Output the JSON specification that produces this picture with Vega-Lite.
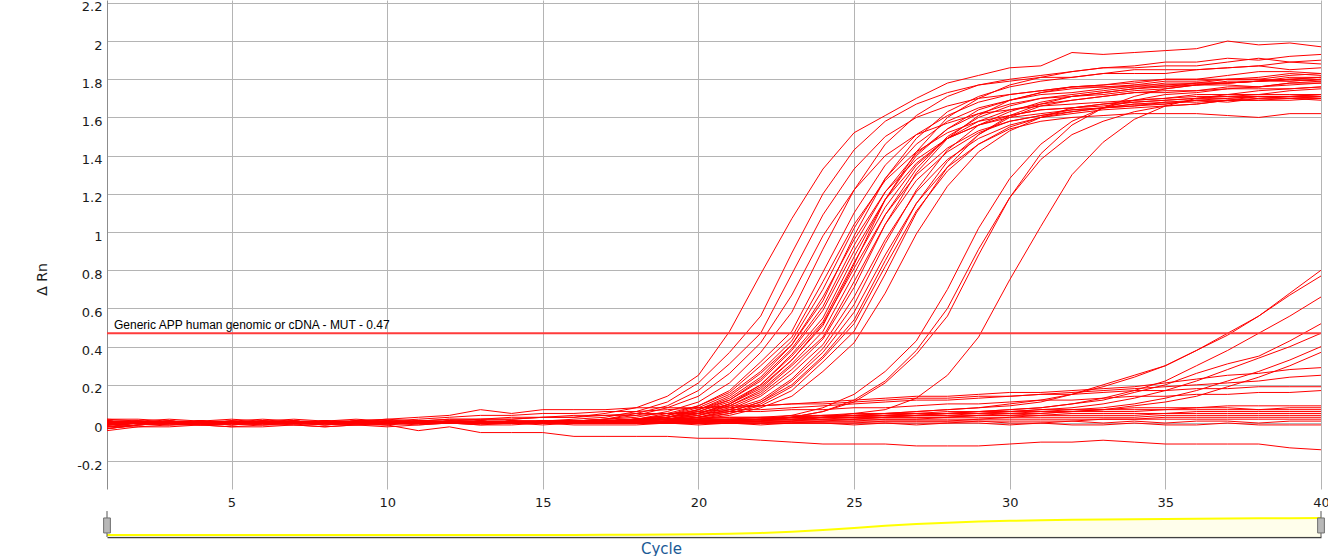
{
"$schema":"https://vega.github.io/schema/vega-lite/v6.json",
"background":"white",
"padding":{"left":35,"top":0,"right":0,"bottom":0},
"config":{"view":{"stroke":null},"axis":{"labelFont":"DejaVu Sans","titleFont":"DejaVu Sans"}},
"datasets":{
"thr":[{"label":"Generic APP human genomic or cDNA - MUT - 0.47","t":0.47}],
"handles":[{"c":1},{"c":40}],
"cyc":[{"k":"c1","c":1},{"k":"c2","c":2},{"k":"c3","c":3},{"k":"c4","c":4},{"k":"c5","c":5},{"k":"c6","c":6},{"k":"c7","c":7},{"k":"c8","c":8},{"k":"c9","c":9},{"k":"c10","c":10},{"k":"c11","c":11},{"k":"c12","c":12},{"k":"c13","c":13},{"k":"c14","c":14},{"k":"c15","c":15},{"k":"c16","c":16},{"k":"c17","c":17},{"k":"c18","c":18},{"k":"c19","c":19},{"k":"c20","c":20},{"k":"c21","c":21},{"k":"c22","c":22},{"k":"c23","c":23},{"k":"c24","c":24},{"k":"c25","c":25},{"k":"c26","c":26},{"k":"c27","c":27},{"k":"c28","c":28},{"k":"c29","c":29},{"k":"c30","c":30},{"k":"c31","c":31},{"k":"c32","c":32},{"k":"c33","c":33},{"k":"c34","c":34},{"k":"c35","c":35},{"k":"c36","c":36},{"k":"c37","c":37},{"k":"c38","c":38},{"k":"c39","c":39},{"k":"c40","c":40}],
"wells":[
{"w":"a","c1":-0.03,"c2":-0.01,"c3":0,"c4":0.01,"c5":0,"c6":0.01,"c7":0,"c8":0.01,"c9":0,"c10":0.01,"c11":0.01,"c12":0.02,"c13":0.02,"c14":0.02,"c15":0.03,"c16":0.03,"c17":0.05,"c18":0.08,"c19":0.14,"c20":0.25,"c21":0.48,"c22":0.78,"c23":1.07,"c24":1.33,"c25":1.52,"c26":1.61,"c27":1.7,"c28":1.78,"c29":1.82,"c30":1.86,"c31":1.87,"c32":1.94,"c33":1.93,"c34":1.94,"c35":1.95,"c36":1.96,"c37":2,"c38":1.98,"c39":1.99,"c40":1.97},
{"w":"b","c1":0.01,"c2":0,"c3":-0.01,"c4":0,"c5":0.01,"c6":0,"c7":0.01,"c8":0,"c9":0.01,"c10":0,"c11":0.01,"c12":0.01,"c13":0,"c14":0.01,"c15":0.01,"c16":0.02,"c17":0.03,"c18":0.06,"c19":0.11,"c20":0.21,"c21":0.37,"c22":0.56,"c23":0.89,"c24":1.2,"c25":1.43,"c26":1.58,"c27":1.67,"c28":1.73,"c29":1.77,"c30":1.79,"c31":1.81,"c32":1.81,"c33":1.83,"c34":1.83,"c35":1.83,"c36":1.85,"c37":1.86,"c38":1.87,"c39":1.85,"c40":1.86},
{"w":"c","c1":-0.02,"c2":0,"c3":0.01,"c4":0,"c5":-0.01,"c6":0,"c7":0,"c8":0.01,"c9":0,"c10":0,"c11":0.01,"c12":0,"c13":0.01,"c14":0,"c15":0.01,"c16":0.01,"c17":0.02,"c18":0.05,"c19":0.09,"c20":0.17,"c21":0.31,"c22":0.47,"c23":0.78,"c24":1.09,"c25":1.33,"c26":1.5,"c27":1.6,"c28":1.66,"c29":1.7,"c30":1.72,"c31":1.74,"c32":1.76,"c33":1.76,"c34":1.76,"c35":1.78,"c36":1.78,"c37":1.8,"c38":1.8,"c39":1.79,"c40":1.8},
{"w":"d","c1":0,"c2":0.01,"c3":0,"c4":-0.01,"c5":0,"c6":0.01,"c7":0,"c8":-0.01,"c9":0,"c10":0.01,"c11":0,"c12":0,"c13":0.01,"c14":0,"c15":0.01,"c16":0.01,"c17":0.02,"c18":0.04,"c19":0.08,"c20":0.14,"c21":0.26,"c22":0.42,"c23":0.67,"c24":0.98,"c25":1.22,"c26":1.4,"c27":1.51,"c28":1.57,"c29":1.62,"c30":1.64,"c31":1.66,"c32":1.67,"c33":1.68,"c34":1.69,"c35":1.7,"c36":1.71,"c37":1.71,"c38":1.72,"c39":1.72,"c40":1.72},
{"w":"e","c1":0.01,"c2":0,"c3":0,"c4":0.01,"c5":0,"c6":-0.01,"c7":0,"c8":0.01,"c9":0,"c10":0,"c11":0.01,"c12":0,"c13":0,"c14":0.01,"c15":0.01,"c16":0.01,"c17":0.02,"c18":0.03,"c19":0.06,"c20":0.11,"c21":0.21,"c22":0.37,"c23":0.58,"c24":0.91,"c25":1.22,"c26":1.46,"c27":1.61,"c28":1.71,"c29":1.77,"c30":1.8,"c31":1.82,"c32":1.84,"c33":1.86,"c34":1.86,"c35":1.87,"c36":1.87,"c37":1.89,"c38":1.91,"c39":1.89,"c40":1.9},
{"w":"f","c1":-0.01,"c2":0,"c3":0.01,"c4":0,"c5":0,"c6":0.01,"c7":0,"c8":0,"c9":-0.01,"c10":0,"c11":0,"c12":0.01,"c13":0,"c14":0.01,"c15":0,"c16":0.01,"c17":0.01,"c18":0.02,"c19":0.05,"c20":0.09,"c21":0.17,"c22":0.32,"c23":0.48,"c24":0.79,"c25":1.1,"c26":1.35,"c27":1.51,"c28":1.61,"c29":1.68,"c30":1.72,"c31":1.74,"c32":1.76,"c33":1.77,"c34":1.78,"c35":1.8,"c36":1.8,"c37":1.8,"c38":1.81,"c39":1.83,"c40":1.82},
{"w":"g","c1":0.02,"c2":0.01,"c3":0,"c4":0,"c5":0.01,"c6":0,"c7":0,"c8":0,"c9":0.01,"c10":0.01,"c11":0,"c12":0,"c13":0,"c14":0.01,"c15":0,"c16":0,"c17":0.01,"c18":0.02,"c19":0.04,"c20":0.09,"c21":0.16,"c22":0.3,"c23":0.45,"c24":0.74,"c25":1.04,"c26":1.27,"c27":1.42,"c28":1.52,"c29":1.58,"c30":1.61,"c31":1.64,"c32":1.65,"c33":1.66,"c34":1.68,"c35":1.69,"c36":1.7,"c37":1.7,"c38":1.71,"c39":1.7,"c40":1.71},
{"w":"h","c1":0,"c2":0.01,"c3":0,"c4":0,"c5":0,"c6":0.01,"c7":0.01,"c8":0,"c9":0,"c10":0.01,"c11":0,"c12":0,"c13":0.01,"c14":0,"c15":0,"c16":0.01,"c17":0.01,"c18":0.02,"c19":0.04,"c20":0.08,"c21":0.15,"c22":0.27,"c23":0.43,"c24":0.7,"c25":1.02,"c26":1.28,"c27":1.46,"c28":1.58,"c29":1.65,"c30":1.69,"c31":1.72,"c32":1.73,"c33":1.75,"c34":1.77,"c35":1.77,"c36":1.78,"c37":1.78,"c38":1.79,"c39":1.8,"c40":1.81},
{"w":"i","c1":-0.02,"c2":-0.01,"c3":0,"c4":0,"c5":0,"c6":0,"c7":0.01,"c8":0,"c9":0,"c10":0,"c11":0.01,"c12":0,"c13":0,"c14":0,"c15":0.01,"c16":0,"c17":0.01,"c18":0.02,"c19":0.04,"c20":0.07,"c21":0.14,"c22":0.26,"c23":0.41,"c24":0.66,"c25":0.96,"c26":1.21,"c27":1.38,"c28":1.49,"c29":1.56,"c30":1.6,"c31":1.62,"c32":1.64,"c33":1.65,"c34":1.66,"c35":1.68,"c36":1.68,"c37":1.69,"c38":1.69,"c39":1.7,"c40":1.7},
{"w":"j","c1":0.01,"c2":0,"c3":0,"c4":-0.01,"c5":0,"c6":0,"c7":0.01,"c8":0,"c9":0.01,"c10":0,"c11":0,"c12":0,"c13":0.01,"c14":0,"c15":0,"c16":0.01,"c17":0.01,"c18":0.02,"c19":0.03,"c20":0.07,"c21":0.13,"c22":0.24,"c23":0.41,"c24":0.64,"c25":0.98,"c26":1.28,"c27":1.49,"c28":1.63,"c29":1.71,"c30":1.76,"c31":1.79,"c32":1.81,"c33":1.83,"c34":1.85,"c35":1.85,"c36":1.85,"c37":1.86,"c38":1.87,"c39":1.89,"c40":1.88},
{"w":"k","c1":0,"c2":0,"c3":0.01,"c4":0,"c5":0.01,"c6":0,"c7":0,"c8":0,"c9":0,"c10":0.01,"c11":0,"c12":0.01,"c13":0,"c14":0,"c15":0.01,"c16":0,"c17":0.01,"c18":0.02,"c19":0.03,"c20":0.07,"c21":0.12,"c22":0.23,"c23":0.39,"c24":0.61,"c25":0.93,"c26":1.21,"c27":1.41,"c28":1.54,"c29":1.62,"c30":1.67,"c31":1.7,"c32":1.71,"c33":1.72,"c34":1.74,"c35":1.75,"c36":1.77,"c37":1.77,"c38":1.76,"c39":1.78,"c40":1.79},
{"w":"l","c1":-0.01,"c2":0,"c3":0,"c4":0.01,"c5":0,"c6":0,"c7":0,"c8":0.01,"c9":0,"c10":0,"c11":0,"c12":0.01,"c13":0,"c14":0,"c15":0,"c16":0.01,"c17":0,"c18":0.02,"c19":0.03,"c20":0.06,"c21":0.12,"c22":0.22,"c23":0.38,"c24":0.59,"c25":0.9,"c26":1.17,"c27":1.36,"c28":1.49,"c29":1.56,"c30":1.61,"c31":1.64,"c32":1.65,"c33":1.67,"c34":1.68,"c35":1.69,"c36":1.7,"c37":1.71,"c38":1.71,"c39":1.71,"c40":1.72},
{"w":"m","c1":0,"c2":0.01,"c3":0,"c4":0,"c5":-0.01,"c6":0,"c7":0,"c8":0,"c9":0.01,"c10":0,"c11":0,"c12":0.01,"c13":0.01,"c14":0,"c15":0,"c16":0,"c17":0.01,"c18":0.01,"c19":0.03,"c20":0.06,"c21":0.11,"c22":0.2,"c23":0.36,"c24":0.55,"c25":0.87,"c26":1.17,"c27":1.4,"c28":1.54,"c29":1.64,"c30":1.69,"c31":1.73,"c32":1.75,"c33":1.76,"c34":1.77,"c35":1.79,"c36":1.79,"c37":1.8,"c38":1.8,"c39":1.82,"c40":1.83},
{"w":"n","c1":0.01,"c2":0,"c3":0,"c4":0,"c5":0,"c6":0.01,"c7":0,"c8":-0.01,"c9":0,"c10":0,"c11":0.01,"c12":0,"c13":0,"c14":0,"c15":0.01,"c16":0,"c17":0,"c18":0.01,"c19":0.03,"c20":0.05,"c21":0.1,"c22":0.2,"c23":0.35,"c24":0.53,"c25":0.84,"c26":1.13,"c27":1.35,"c28":1.49,"c29":1.58,"c30":1.64,"c31":1.67,"c32":1.69,"c33":1.71,"c34":1.73,"c35":1.73,"c36":1.74,"c37":1.75,"c38":1.75,"c39":1.75,"c40":1.76},
{"w":"o","c1":-0.03,"c2":-0.01,"c3":0,"c4":0,"c5":0.01,"c6":0,"c7":0,"c8":0,"c9":0,"c10":0.01,"c11":0,"c12":0,"c13":0,"c14":0.01,"c15":0,"c16":0,"c17":0,"c18":0.01,"c19":0.03,"c20":0.05,"c21":0.1,"c22":0.19,"c23":0.33,"c24":0.52,"c25":0.81,"c26":1.09,"c27":1.3,"c28":1.44,"c29":1.53,"c30":1.58,"c31":1.61,"c32":1.63,"c33":1.65,"c34":1.66,"c35":1.67,"c36":1.69,"c37":1.68,"c38":1.7,"c39":1.7,"c40":1.69},
{"w":"p","c1":0,"c2":0,"c3":0.01,"c4":0,"c5":0,"c6":0,"c7":0,"c8":0.01,"c9":0,"c10":0,"c11":0,"c12":0,"c13":0.01,"c14":0,"c15":0,"c16":0,"c17":0,"c18":0.01,"c19":0.02,"c20":0.05,"c21":0.1,"c22":0.18,"c23":0.33,"c24":0.51,"c25":0.83,"c26":1.17,"c27":1.42,"c28":1.6,"c29":1.7,"c30":1.77,"c31":1.81,"c32":1.84,"c33":1.86,"c34":1.87,"c35":1.89,"c36":1.89,"c37":1.91,"c38":1.9,"c39":1.92,"c40":1.93},
{"w":"q","c1":0.01,"c2":0.01,"c3":0,"c4":0,"c5":0,"c6":0,"c7":0.01,"c8":0,"c9":0,"c10":0,"c11":0,"c12":0.01,"c13":0,"c14":0,"c15":0.01,"c16":0,"c17":0,"c18":0.01,"c19":0.02,"c20":0.05,"c21":0.09,"c22":0.17,"c23":0.31,"c24":0.48,"c25":0.78,"c26":1.09,"c27":1.33,"c28":1.5,"c29":1.6,"c30":1.66,"c31":1.7,"c32":1.72,"c33":1.74,"c34":1.76,"c35":1.76,"c36":1.78,"c37":1.78,"c38":1.79,"c39":1.8,"c40":1.79},
{"w":"r","c1":-0.02,"c2":0,"c3":0,"c4":0.01,"c5":0,"c6":0,"c7":0,"c8":0,"c9":0.01,"c10":0,"c11":0,"c12":0,"c13":0,"c14":0,"c15":0.01,"c16":0,"c17":0.01,"c18":0.01,"c19":0.02,"c20":0.04,"c21":0.09,"c22":0.16,"c23":0.3,"c24":0.45,"c25":0.74,"c26":1.04,"c27":1.27,"c28":1.42,"c29":1.52,"c30":1.58,"c31":1.61,"c32":1.64,"c33":1.65,"c34":1.67,"c35":1.67,"c36":1.69,"c37":1.69,"c38":1.71,"c39":1.71,"c40":1.7},
{"w":"s","c1":0.01,"c2":0,"c3":0,"c4":0,"c5":0.01,"c6":0,"c7":0,"c8":0,"c9":0,"c10":0,"c11":0.01,"c12":0,"c13":0,"c14":0,"c15":0,"c16":0.01,"c17":0,"c18":0.01,"c19":0.02,"c20":0.04,"c21":0.08,"c22":0.15,"c23":0.28,"c24":0.44,"c25":0.71,"c26":1.04,"c27":1.31,"c28":1.49,"c29":1.61,"c30":1.69,"c31":1.73,"c32":1.76,"c33":1.77,"c34":1.79,"c35":1.8,"c36":1.8,"c37":1.82,"c38":1.84,"c39":1.84,"c40":1.83},
{"w":"t","c1":0,"c2":0,"c3":-0.01,"c4":0,"c5":0,"c6":0,"c7":0.01,"c8":0,"c9":0,"c10":0,"c11":0,"c12":0,"c13":0.01,"c14":0,"c15":0,"c16":0,"c17":0.01,"c18":0.01,"c19":0.02,"c20":0.04,"c21":0.07,"c22":0.14,"c23":0.26,"c24":0.41,"c25":0.66,"c26":0.96,"c27":1.21,"c28":1.38,"c29":1.49,"c30":1.56,"c31":1.6,"c32":1.62,"c33":1.64,"c34":1.65,"c35":1.66,"c36":1.67,"c37":1.69,"c38":1.69,"c39":1.69,"c40":1.7},
{"w":"u","c1":0,"c2":0.01,"c3":0,"c4":0,"c5":0,"c6":0,"c7":0,"c8":0,"c9":0.01,"c10":0,"c11":0,"c12":0,"c13":0,"c14":0.01,"c15":0,"c16":0,"c17":0,"c18":0.01,"c19":0.02,"c20":0.03,"c21":0.07,"c22":0.12,"c23":0.23,"c24":0.39,"c25":0.62,"c26":0.94,"c27":1.22,"c28":1.43,"c29":1.56,"c30":1.63,"c31":1.68,"c32":1.71,"c33":1.73,"c34":1.75,"c35":1.77,"c36":1.77,"c37":1.78,"c38":1.79,"c39":1.79,"c40":1.8},
{"w":"v","c1":0.01,"c2":0,"c3":0,"c4":0,"c5":0,"c6":0.01,"c7":0,"c8":0,"c9":0,"c10":0,"c11":0,"c12":0.01,"c13":0,"c14":0,"c15":0,"c16":0,"c17":0,"c18":0.01,"c19":0.01,"c20":0.03,"c21":0.06,"c22":0.11,"c23":0.22,"c24":0.37,"c25":0.58,"c26":0.88,"c27":1.15,"c28":1.34,"c29":1.46,"c30":1.54,"c31":1.58,"c32":1.6,"c33":1.61,"c34":1.62,"c35":1.62,"c36":1.62,"c37":1.61,"c38":1.6,"c39":1.62,"c40":1.62},
{"w":"w","c1":0,"c2":0,"c3":0,"c4":0.01,"c5":0,"c6":0,"c7":0,"c8":0,"c9":0,"c10":0.01,"c11":0,"c12":0,"c13":0,"c14":0,"c15":0,"c16":0.01,"c17":0,"c18":0,"c19":0.01,"c20":0.03,"c21":0.06,"c22":0.11,"c23":0.2,"c24":0.35,"c25":0.54,"c26":0.85,"c27":1.15,"c28":1.37,"c29":1.51,"c30":1.6,"c31":1.66,"c32":1.69,"c33":1.71,"c34":1.73,"c35":1.74,"c36":1.74,"c37":1.76,"c38":1.76,"c39":1.78,"c40":1.78},
{"w":"x","c1":-0.01,"c2":0,"c3":0,"c4":0,"c5":0,"c6":0,"c7":0.01,"c8":0,"c9":0,"c10":0,"c11":0,"c12":0,"c13":0,"c14":0.01,"c15":0,"c16":0,"c17":0,"c18":0,"c19":0.01,"c20":0.03,"c21":0.05,"c22":0.1,"c23":0.19,"c24":0.34,"c25":0.52,"c26":0.82,"c27":1.11,"c28":1.32,"c29":1.46,"c30":1.55,"c31":1.6,"c32":1.63,"c33":1.65,"c34":1.67,"c35":1.68,"c36":1.69,"c37":1.7,"c38":1.71,"c39":1.71,"c40":1.71},
{"w":"y","c1":0.01,"c2":0,"c3":0,"c4":0,"c5":0,"c6":0,"c7":0,"c8":0.01,"c9":0,"c10":0,"c11":0,"c12":0,"c13":0,"c14":0,"c15":0.01,"c16":0,"c17":0,"c18":0,"c19":0.01,"c20":0.02,"c21":0.05,"c22":0.09,"c23":0.17,"c24":0.32,"c25":0.48,"c26":0.78,"c27":1.1,"c28":1.34,"c29":1.51,"c30":1.61,"c31":1.67,"c32":1.71,"c33":1.73,"c34":1.75,"c35":1.76,"c36":1.77,"c37":1.79,"c38":1.79,"c39":1.81,"c40":1.81},
{"w":"z","c1":0,"c2":0,"c3":0.01,"c4":0,"c5":0,"c6":0,"c7":0,"c8":0,"c9":0,"c10":0,"c11":0.01,"c12":0,"c13":0,"c14":0,"c15":0,"c16":0,"c17":0,"c18":0,"c19":0.01,"c20":0.02,"c21":0.04,"c22":0.08,"c23":0.14,"c24":0.27,"c25":0.42,"c26":0.68,"c27":0.99,"c28":1.24,"c29":1.42,"c30":1.53,"c31":1.6,"c32":1.65,"c33":1.67,"c34":1.69,"c35":1.7,"c36":1.72,"c37":1.72,"c38":1.72,"c39":1.74,"c40":1.75},
{"w":"A","c1":0,"c2":0.01,"c3":0,"c4":0,"c5":0,"c6":0,"c7":0.01,"c8":0,"c9":0,"c10":0,"c11":0,"c12":0,"c13":0,"c14":0.01,"c15":0,"c16":0,"c17":0,"c18":0,"c19":0.01,"c20":0.01,"c21":0.01,"c22":0.02,"c23":0.04,"c24":0.08,"c25":0.15,"c26":0.27,"c27":0.43,"c28":0.7,"c29":1.02,"c30":1.28,"c31":1.46,"c32":1.58,"c33":1.65,"c34":1.69,"c35":1.72,"c36":1.73,"c37":1.75,"c38":1.76,"c39":1.77,"c40":1.78},
{"w":"B","c1":-0.01,"c2":0,"c3":0,"c4":0.01,"c5":0,"c6":0,"c7":0,"c8":0,"c9":0.01,"c10":0,"c11":0,"c12":0,"c13":0,"c14":0,"c15":0,"c16":0.01,"c17":0,"c18":0,"c19":0,"c20":0.01,"c21":0.01,"c22":0.01,"c23":0.03,"c24":0.06,"c25":0.12,"c26":0.22,"c27":0.38,"c28":0.6,"c29":0.91,"c30":1.18,"c31":1.38,"c32":1.51,"c33":1.58,"c34":1.63,"c35":1.66,"c36":1.67,"c37":1.69,"c38":1.7,"c39":1.71,"c40":1.72},
{"w":"C","c1":0.01,"c2":0,"c3":0,"c4":0,"c5":0,"c6":0.01,"c7":0,"c8":0,"c9":0,"c10":0,"c11":0.01,"c12":0,"c13":0,"c14":0,"c15":0,"c16":0,"c17":0.01,"c18":0,"c19":0,"c20":0.01,"c21":0.01,"c22":0.01,"c23":0.03,"c24":0.06,"c25":0.11,"c26":0.21,"c27":0.36,"c28":0.56,"c29":0.88,"c30":1.18,"c31":1.41,"c32":1.56,"c33":1.65,"c34":1.71,"c35":1.75,"c36":1.77,"c37":1.78,"c38":1.79,"c39":1.8,"c40":1.81},
{"w":"D","c1":0,"c2":0,"c3":0.01,"c4":0,"c5":0,"c6":0,"c7":0,"c8":0,"c9":0.01,"c10":0,"c11":0,"c12":0,"c13":0,"c14":0.01,"c15":0,"c16":0,"c17":0,"c18":0,"c19":0,"c20":0.01,"c21":0.01,"c22":0.01,"c23":0.01,"c24":0.03,"c25":0.05,"c26":0.07,"c27":0.13,"c28":0.25,"c29":0.45,"c30":0.75,"c31":1.03,"c32":1.3,"c33":1.47,"c34":1.59,"c35":1.66,"c36":1.7,"c37":1.72,"c38":1.74,"c39":1.75,"c40":1.76},
{"w":"E","c1":0,"c2":0,"c3":0,"c4":0.01,"c5":0,"c6":0,"c7":0,"c8":0.01,"c9":0,"c10":0,"c11":0,"c12":0.01,"c13":0.01,"c14":0.01,"c15":0.01,"c16":0.01,"c17":0.02,"c18":0.02,"c19":0.02,"c20":0.03,"c21":0.03,"c22":0.03,"c23":0.04,"c24":0.04,"c25":0.05,"c26":0.05,"c27":0.06,"c28":0.07,"c29":0.08,"c30":0.09,"c31":0.11,"c32":0.15,"c33":0.2,"c34":0.25,"c35":0.3,"c36":0.38,"c37":0.47,"c38":0.56,"c39":0.68,"c40":0.8},
{"w":"F","c1":0.01,"c2":0,"c3":0,"c4":0,"c5":0,"c6":0.01,"c7":0,"c8":0,"c9":0,"c10":0.01,"c11":0,"c12":0,"c13":0.01,"c14":0,"c15":0.01,"c16":0.01,"c17":0.01,"c18":0.02,"c19":0.02,"c20":0.02,"c21":0.02,"c22":0.03,"c23":0.03,"c24":0.04,"c25":0.04,"c26":0.05,"c27":0.06,"c28":0.07,"c29":0.08,"c30":0.1,"c31":0.12,"c32":0.15,"c33":0.19,"c34":0.24,"c35":0.3,"c36":0.38,"c37":0.46,"c38":0.56,"c39":0.67,"c40":0.77},
{"w":"G","c1":0,"c2":0,"c3":0.01,"c4":0,"c5":0,"c6":0,"c7":0.01,"c8":0,"c9":0,"c10":0,"c11":0.01,"c12":0,"c13":0.01,"c14":0.01,"c15":0.01,"c16":0.01,"c17":0.01,"c18":0.02,"c19":0.02,"c20":0.02,"c21":0.02,"c22":0.02,"c23":0.03,"c24":0.03,"c25":0.03,"c26":0.04,"c27":0.05,"c28":0.05,"c29":0.06,"c30":0.07,"c31":0.08,"c32":0.1,"c33":0.13,"c34":0.17,"c35":0.22,"c36":0.3,"c37":0.38,"c38":0.47,"c39":0.56,"c40":0.66},
{"w":"H","c1":-0.01,"c2":0,"c3":0,"c4":0,"c5":0,"c6":0.01,"c7":0,"c8":0,"c9":0,"c10":0,"c11":0,"c12":0.01,"c13":0,"c14":0.01,"c15":0.01,"c16":0.01,"c17":0.01,"c18":0.02,"c19":0.02,"c20":0.02,"c21":0.03,"c22":0.03,"c23":0.03,"c24":0.04,"c25":0.04,"c26":0.05,"c27":0.05,"c28":0.06,"c29":0.06,"c30":0.07,"c31":0.08,"c32":0.1,"c33":0.12,"c34":0.16,"c35":0.2,"c36":0.26,"c37":0.31,"c38":0.35,"c39":0.43,"c40":0.52},
{"w":"I","c1":0,"c2":0,"c3":0,"c4":0,"c5":0.01,"c6":0,"c7":0,"c8":0,"c9":0,"c10":0.01,"c11":0,"c12":0,"c13":0,"c14":0,"c15":0.01,"c16":0.01,"c17":0.01,"c18":0.01,"c19":0.02,"c20":0.02,"c21":0.02,"c22":0.02,"c23":0.03,"c24":0.03,"c25":0.04,"c26":0.04,"c27":0.04,"c28":0.05,"c29":0.05,"c30":0.06,"c31":0.07,"c32":0.08,"c33":0.1,"c34":0.13,"c35":0.17,"c36":0.22,"c37":0.28,"c38":0.34,"c39":0.4,"c40":0.47},
{"w":"J","c1":0.01,"c2":0,"c3":0,"c4":0,"c5":0,"c6":0,"c7":0,"c8":0.01,"c9":0,"c10":0,"c11":0,"c12":0,"c13":0,"c14":0.01,"c15":0,"c16":0,"c17":0.01,"c18":0.01,"c19":0.01,"c20":0.01,"c21":0.02,"c22":0.02,"c23":0.02,"c24":0.03,"c25":0.03,"c26":0.03,"c27":0.04,"c28":0.04,"c29":0.04,"c30":0.05,"c31":0.06,"c32":0.07,"c33":0.08,"c34":0.1,"c35":0.13,"c36":0.17,"c37":0.22,"c38":0.27,"c39":0.33,"c40":0.4},
{"w":"K","c1":-0.01,"c2":0,"c3":0,"c4":0.01,"c5":0,"c6":0,"c7":0,"c8":0,"c9":0,"c10":0,"c11":0.01,"c12":0,"c13":0,"c14":0,"c15":0,"c16":0.01,"c17":0,"c18":0.01,"c19":0.01,"c20":0.01,"c21":0.01,"c22":0.02,"c23":0.02,"c24":0.02,"c25":0.02,"c26":0.03,"c27":0.03,"c28":0.03,"c29":0.04,"c30":0.04,"c31":0.05,"c32":0.06,"c33":0.07,"c34":0.09,"c35":0.11,"c36":0.14,"c37":0.19,"c38":0.24,"c39":0.3,"c40":0.37},
{"w":"L","c1":0,"c2":0,"c3":0,"c4":0.01,"c5":0,"c6":0,"c7":0,"c8":0,"c9":0.01,"c10":0.01,"c11":0.02,"c12":0.03,"c13":0.04,"c14":0.04,"c15":0.05,"c16":0.05,"c17":0.06,"c18":0.06,"c19":0.07,"c20":0.08,"c21":0.08,"c22":0.09,"c23":0.1,"c24":0.11,"c25":0.12,"c26":0.13,"c27":0.14,"c28":0.14,"c29":0.15,"c30":0.16,"c31":0.16,"c32":0.17,"c33":0.18,"c34":0.19,"c35":0.21,"c36":0.23,"c37":0.25,"c38":0.26,"c39":0.28,"c40":0.29},
{"w":"M","c1":0.01,"c2":0.01,"c3":0.02,"c4":0.01,"c5":0.01,"c6":0.02,"c7":0.01,"c8":0.01,"c9":0.02,"c10":0.01,"c11":0.01,"c12":0.02,"c13":0.02,"c14":0.03,"c15":0.03,"c16":0.04,"c17":0.04,"c18":0.05,"c19":0.05,"c20":0.06,"c21":0.07,"c22":0.07,"c23":0.08,"c24":0.09,"c25":0.1,"c26":0.11,"c27":0.12,"c28":0.12,"c29":0.13,"c30":0.14,"c31":0.15,"c32":0.16,"c33":0.17,"c34":0.18,"c35":0.19,"c36":0.2,"c37":0.21,"c38":0.22,"c39":0.24,"c40":0.25},
{"w":"N","c1":0,"c2":0,"c3":0.01,"c4":0,"c5":0,"c6":0,"c7":0,"c8":0.01,"c9":0.01,"c10":0.02,"c11":0.03,"c12":0.04,"c13":0.07,"c14":0.05,"c15":0.07,"c16":0.07,"c17":0.07,"c18":0.08,"c19":0.08,"c20":0.08,"c21":0.09,"c22":0.09,"c23":0.1,"c24":0.1,"c25":0.11,"c26":0.12,"c27":0.13,"c28":0.13,"c29":0.14,"c30":0.14,"c31":0.15,"c32":0.15,"c33":0.16,"c34":0.17,"c35":0.17,"c36":0.18,"c37":0.18,"c38":0.19,"c39":0.19,"c40":0.19},
{"w":"O","c1":-0.01,"c2":0,"c3":0,"c4":0,"c5":0,"c6":0,"c7":0.01,"c8":0,"c9":0,"c10":0,"c11":0,"c12":0.01,"c13":0.02,"c14":0.02,"c15":0.03,"c16":0.03,"c17":0.04,"c18":0.04,"c19":0.05,"c20":0.05,"c21":0.06,"c22":0.06,"c23":0.07,"c24":0.07,"c25":0.08,"c26":0.08,"c27":0.09,"c28":0.1,"c29":0.1,"c30":0.11,"c31":0.12,"c32":0.12,"c33":0.13,"c34":0.14,"c35":0.14,"c36":0.15,"c37":0.15,"c38":0.16,"c39":0.16,"c40":0.17},
{"w":"P","c1":0.02,"c2":0.02,"c3":0.01,"c4":0.01,"c5":0.02,"c6":0.01,"c7":0.02,"c8":0.01,"c9":0.01,"c10":0.02,"c11":0.01,"c12":0.01,"c13":0.01,"c14":0,"c15":0.01,"c16":0.01,"c17":0.01,"c18":0.01,"c19":0.02,"c20":0.01,"c21":0.02,"c22":0.02,"c23":0.03,"c24":0.03,"c25":0.04,"c26":0.04,"c27":0.05,"c28":0.05,"c29":0.06,"c30":0.06,"c31":0.07,"c32":0.07,"c33":0.07,"c34":0.08,"c35":0.08,"c36":0.08,"c37":0.09,"c38":0.09,"c39":0.09,"c40":0.09},
{"w":"Q","c1":-0.04,"c2":-0.02,"c3":-0.01,"c4":-0.01,"c5":-0.02,"c6":-0.01,"c7":-0.01,"c8":-0.02,"c9":-0.01,"c10":-0.01,"c11":0.01,"c12":0,"c13":0,"c14":0.01,"c15":0,"c16":0.01,"c17":0,"c18":0.01,"c19":0.01,"c20":0.01,"c21":0.01,"c22":0.02,"c23":0.02,"c24":0.03,"c25":0.03,"c26":0.04,"c27":0.04,"c28":0.05,"c29":0.05,"c30":0.06,"c31":0.06,"c32":0.06,"c33":0.07,"c34":0.07,"c35":0.07,"c36":0.08,"c37":0.08,"c38":0.07,"c39":0.08,"c40":0.08},
{"w":"R","c1":0,"c2":0,"c3":0,"c4":-0.01,"c5":0,"c6":0,"c7":0,"c8":0.01,"c9":0,"c10":0,"c11":0,"c12":0,"c13":0.01,"c14":0,"c15":0,"c16":0,"c17":0.01,"c18":0,"c19":0,"c20":0.01,"c21":0.01,"c22":0.01,"c23":0.02,"c24":0.02,"c25":0.03,"c26":0.03,"c27":0.04,"c28":0.04,"c29":0.05,"c30":0.05,"c31":0.05,"c32":0.06,"c33":0.06,"c34":0.06,"c35":0.07,"c36":0.07,"c37":0.07,"c38":0.07,"c39":0.07,"c40":0.07},
{"w":"S","c1":-0.02,"c2":-0.01,"c3":0,"c4":0,"c5":0,"c6":-0.01,"c7":0,"c8":0,"c9":0,"c10":0,"c11":0,"c12":0,"c13":0,"c14":0,"c15":0.01,"c16":0,"c17":0,"c18":0,"c19":0.01,"c20":0,"c21":0.01,"c22":0.01,"c23":0.01,"c24":0.02,"c25":0.02,"c26":0.03,"c27":0.03,"c28":0.03,"c29":0.04,"c30":0.04,"c31":0.04,"c32":0.05,"c33":0.05,"c34":0.05,"c35":0.05,"c36":0.06,"c37":0.06,"c38":0.06,"c39":0.06,"c40":0.06},
{"w":"T","c1":0.01,"c2":0,"c3":0,"c4":0,"c5":0,"c6":0,"c7":-0.01,"c8":0,"c9":0,"c10":0,"c11":0,"c12":0,"c13":0,"c14":0,"c15":0,"c16":0,"c17":0,"c18":0.01,"c19":0,"c20":0,"c21":0,"c22":0.01,"c23":0.01,"c24":0.01,"c25":0.02,"c26":0.02,"c27":0.02,"c28":0.03,"c29":0.03,"c30":0.03,"c31":0.04,"c32":0.04,"c33":0.04,"c34":0.04,"c35":0.05,"c36":0.05,"c37":0.05,"c38":0.05,"c39":0.05,"c40":0.05},
{"w":"U","c1":-0.03,"c2":-0.01,"c3":0,"c4":0,"c5":0,"c6":0,"c7":0,"c8":0,"c9":-0.01,"c10":0,"c11":0,"c12":0,"c13":0,"c14":0,"c15":0,"c16":0,"c17":0,"c18":0,"c19":0,"c20":0,"c21":0,"c22":0,"c23":0.01,"c24":0.01,"c25":0.01,"c26":0.02,"c27":0.02,"c28":0.02,"c29":0.02,"c30":0.03,"c31":0.03,"c32":0.03,"c33":0.03,"c34":0.03,"c35":0.04,"c36":0.04,"c37":0.04,"c38":0.04,"c39":0.04,"c40":0.04},
{"w":"V","c1":0,"c2":0,"c3":0.01,"c4":0,"c5":0,"c6":0,"c7":0,"c8":0,"c9":0,"c10":0,"c11":-0.01,"c12":0,"c13":0,"c14":0,"c15":0,"c16":0,"c17":0,"c18":0,"c19":0,"c20":0,"c21":0,"c22":0,"c23":0,"c24":0.01,"c25":0.01,"c26":0.01,"c27":0.01,"c28":0.01,"c29":0.02,"c30":0.02,"c31":0.02,"c32":0.02,"c33":0.02,"c34":0.02,"c35":0.03,"c36":0.03,"c37":0.03,"c38":0.03,"c39":0.03,"c40":0.03},
{"w":"W","c1":-0.01,"c2":0,"c3":0,"c4":0,"c5":0,"c6":0,"c7":0,"c8":-0.01,"c9":0,"c10":0,"c11":0,"c12":0,"c13":-0.01,"c14":0,"c15":0,"c16":0,"c17":0,"c18":0,"c19":0,"c20":0,"c21":0,"c22":0,"c23":0,"c24":0,"c25":0,"c26":0.01,"c27":0.01,"c28":0.01,"c29":0.01,"c30":0.01,"c31":0.01,"c32":0.01,"c33":0.02,"c34":0.02,"c35":0.02,"c36":0.02,"c37":0.02,"c38":0.02,"c39":0.02,"c40":0.02},
{"w":"X","c1":0.01,"c2":0,"c3":0,"c4":0,"c5":-0.01,"c6":0,"c7":0,"c8":0,"c9":0,"c10":-0.01,"c11":0,"c12":0,"c13":0,"c14":0,"c15":-0.01,"c16":0,"c17":0,"c18":0,"c19":0,"c20":0,"c21":0,"c22":0,"c23":0,"c24":0,"c25":0,"c26":0,"c27":0,"c28":0,"c29":0.01,"c30":0,"c31":0,"c32":0.01,"c33":0,"c34":0.01,"c35":0,"c36":0.01,"c37":0.01,"c38":0,"c39":0.01,"c40":0.01},
{"w":"Y","c1":-0.02,"c2":-0.02,"c3":-0.02,"c4":-0.01,"c5":-0.02,"c6":-0.02,"c7":-0.01,"c8":-0.02,"c9":-0.01,"c10":-0.02,"c11":-0.01,"c12":0,"c13":-0.01,"c14":-0.01,"c15":0,"c16":-0.01,"c17":-0.01,"c18":-0.01,"c19":0,"c20":-0.01,"c21":0,"c22":-0.01,"c23":0,"c24":0,"c25":-0.01,"c26":0,"c27":-0.01,"c28":0,"c29":0,"c30":-0.01,"c31":0,"c32":-0.01,"c33":-0.01,"c34":0,"c35":-0.01,"c36":-0.01,"c37":0,"c38":-0.01,"c39":-0.01,"c40":-0.01},
{"w":"Z","c1":0.01,"c2":0,"c3":0,"c4":0.01,"c5":0,"c6":0,"c7":0.01,"c8":0,"c9":0,"c10":-0.01,"c11":-0.04,"c12":-0.02,"c13":-0.05,"c14":-0.05,"c15":-0.05,"c16":-0.07,"c17":-0.07,"c18":-0.07,"c19":-0.07,"c20":-0.08,"c21":-0.08,"c22":-0.09,"c23":-0.1,"c24":-0.11,"c25":-0.11,"c26":-0.11,"c27":-0.12,"c28":-0.12,"c29":-0.12,"c30":-0.11,"c31":-0.1,"c32":-0.1,"c33":-0.09,"c34":-0.1,"c35":-0.11,"c36":-0.11,"c37":-0.11,"c38":-0.11,"c39":-0.13,"c40":-0.14}
]
},
"bounds":"flush",
"spacing":26,
"resolve":{"scale":{"x":"independent","y":"independent"}},
"vconcat":[
{
"width":1214,"height":489,
"layer":[
{
"data":{"name":"wells"},
"transform":[
{"fold":["c1","c2","c3","c4","c5","c6","c7","c8","c9","c10","c11","c12","c13","c14","c15","c16","c17","c18","c19","c20","c21","c22","c23","c24","c25","c26","c27","c28","c29","c30","c31","c32","c33","c34","c35","c36","c37","c38","c39","c40"],"as":["k","v"]},
{"lookup":"k","from":{"data":{"name":"cyc"},"key":"k","fields":["c"]}}
],
"mark":{"type":"line","stroke":"#ff0000","strokeWidth":1},
"encoding":{
"x":{"field":"c","type":"quantitative","scale":{"domain":[1,40],"nice":false,"zero":false},
"axis":{"values":[5,10,15,20,25,30,35,40],"grid":true,"gridColor":"#b4b4b4","ticks":false,"domain":false,"labelPadding":7,"labelFontSize":13,"labelColor":"#1a1a1a","labelFlush":false,"title":null}},
"y":{"field":"v","type":"quantitative","scale":{"domain":[-0.3455,2.215],"nice":false,"zero":false},
"axis":{"values":[-0.2,0,0.2,0.4,0.6,0.8,1,1.2,1.4,1.6,1.8,2,2.2],"grid":true,"gridColor":"#b4b4b4","ticks":false,"domain":true,"domainColor":"#8c8c8c","labelPadding":5,"labelFontSize":13,"labelColor":"#1a1a1a","labelOffset":4,"labelExpr":"'' + round(datum.value * 10) / 10","title":"Δ Rn","titleFontSize":14,"titleFontWeight":"normal","titleColor":"#1a1a1a","titlePadding":27,"titleY":279}},
"detail":{"field":"w","type":"nominal"}
}
},
{
"data":{"name":"thr"},
"mark":{"type":"rule","color":"#ff3b3b","strokeWidth":2},
"encoding":{"y":{"field":"t","type":"quantitative"}}
},
{
"data":{"name":"thr"},
"mark":{"type":"text","align":"left","baseline":"alphabetic","dx":7,"dy":-4,"font":"Liberation Sans","fontSize":12,"color":"#000000"},
"encoding":{"x":{"datum":1},"y":{"field":"t","type":"quantitative"},"text":{"field":"label"}}
}
]
},
{
"width":1214,"height":22,
"layer":[
{
"data":{"name":"wells"},
"transform":[
{"fold":["c1","c2","c3","c4","c5","c6","c7","c8","c9","c10","c11","c12","c13","c14","c15","c16","c17","c18","c19","c20","c21","c22","c23","c24","c25","c26","c27","c28","c29","c30","c31","c32","c33","c34","c35","c36","c37","c38","c39","c40"],"as":["k","v"]},
{"lookup":"k","from":{"data":{"name":"cyc"},"key":"k","fields":["c"]}},
{"aggregate":[{"op":"mean","field":"v","as":"m"}],"groupby":["c"]}
],
"mark":{"type":"area","color":"#fffde2","line":{"color":"#ffff00","strokeWidth":2}},
"encoding":{
"x":{"field":"c","type":"quantitative","scale":{"domain":[1,40],"nice":false,"zero":false},
"axis":{"title":"Cycle","labels":false,"ticks":false,"grid":false,"domain":true,"domainColor":"#404040","domainWidth":1.5,"titleColor":"#1a5a96","titleFontSize":15,"titleFontWeight":"normal","titlePadding":4,"titleX":554}},
"y":{"field":"m","type":"quantitative","scale":{"domain":[-0.132,1.32],"nice":false,"zero":false},"axis":null},
"y2":{"datum":-0.132}
}
},
{
"data":{"name":"handles"},
"mark":{"type":"rule","color":"#555555","strokeWidth":1},
"encoding":{"x":{"field":"c","type":"quantitative"},"y":{"datum":1.58},"y2":{"datum":-0.132}}
},
{
"data":{"name":"handles"},
"mark":{"type":"point","shape":"M-0.45,-1H0.45V1H-0.45Z","filled":true,"fill":"#b8b8b8","stroke":"#6e6e6e","strokeWidth":1,"size":225,"opacity":1},
"encoding":{"x":{"field":"c","type":"quantitative"},"y":{"datum":0.63}}
}
]
}
]
}
